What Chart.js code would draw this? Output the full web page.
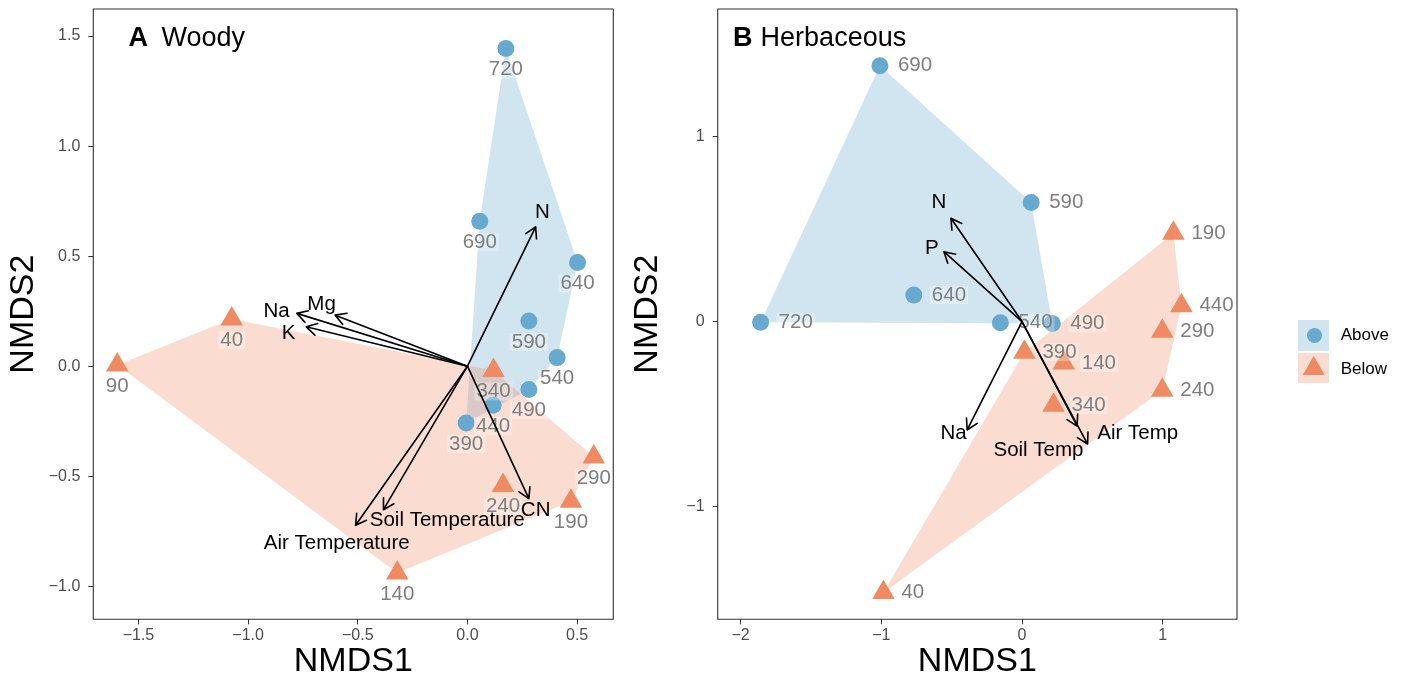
<!DOCTYPE html>
<html>
<head>
<meta charset="utf-8">
<script src="https://cdn.jsdelivr.net/npm/chart.js@4/dist/chart.umd.min.js"></script>
<style>
  html, body { margin: 0; padding: 0; background: #ffffff; width: 1406px; height: 680px; overflow: hidden;
    font-family: "Liberation Sans", Arial, Helvetica, sans-serif; }
  #wrapA { position: absolute; left: 0; top: 0; width: 626px; height: 680px; }
  #wrapB { position: absolute; left: 626px; top: 0; width: 780px; height: 680px; }
  .key { position: absolute; width: 30.7px; height: 30.7px; }
  .dot { position: absolute; width: 15px; height: 15px; border-radius: 50%; background: #67A9CF; }
  .tri { position: absolute; width: 22px; height: 19px; background: #EF8A62;
    clip-path: polygon(50% 0, 100% 100%, 0 100%); }
  .lt { position: absolute; font-size: 17px; line-height: 20px; height: 20px; color: #000; }
</style>
</head>
<body>
<div id="wrapA"><canvas id="chartA" width="626" height="680"></canvas></div>
<div id="wrapB"><canvas id="chartB" width="780" height="680"></canvas></div>

<div class="key" style="left:1298.3px; top:320px; background:#D1E5F1;"></div>
<div class="dot" style="left:1306.5px; top:327.5px;"></div>
<div class="key" style="left:1298.3px; top:352.7px; background:#FADCD0;"></div>
<div class="tri" style="left:1302.7px; top:356px;"></div>
<div class="lt" style="left:1340.7px; top:325px;">Above</div>
<div class="lt" style="left:1340.7px; top:359px;">Below</div>

<script>
// ---------------- DATA ----------------
// Panel A: Woody
const woodyAboveSites = ['720', '690', '640', '590', '540', '490', '440', '390'];
const woodyAboveX = [0.175, 0.056, 0.502, 0.280, 0.409, 0.280, 0.117, -0.006];
const woodyAboveY = [1.444, 0.659, 0.471, 0.205, 0.039, -0.106, -0.177, -0.258];
const woodyBelowSites = ['40', '90', '340', '290', '240', '190', '140'];
const woodyBelowX = [-1.075, -1.597, 0.119, 0.576, 0.162, 0.472, -0.320];
const woodyBelowY = [0.214, 0.006, -0.019, -0.413, -0.542, -0.614, -0.940];
const woodyVectors = ['N', 'Mg', 'Na', 'K', 'Soil Temperature', 'Air Temperature', 'CN'];
const woodyVecX = [0.311, -0.603, -0.778, -0.735, -0.383, -0.510, 0.280];
const woodyVecY = [0.633, 0.232, 0.240, 0.179, -0.652, -0.723, -0.602];
const woodyVecLabelX = [0.342, -0.665, -0.870, -0.815, -0.092, -0.596, 0.311];
const woodyVecLabelY = [0.699, 0.283, 0.247, 0.149, -0.700, -0.803, -0.655];
const woodyXTicks = [-1.5, -1.0, -0.5, 0.0, 0.5];
const woodyXTickLabels = ['\u22121.5', '\u22121.0', '\u22120.5', '0.0', '0.5'];
const woodyYTicks = [-1.0, -0.5, 0.0, 0.5, 1.0, 1.5];
const woodyYTickLabels = ['\u22121.0', '\u22120.5', '0.0', '0.5', '1.0', '1.5'];
const woodyXRange = [-1.706, 0.665];
const woodyYRange = [-1.150, 1.623];

// Panel B: Herbaceous
const herbAboveSites = ['690', '590', '640', '720', '540', '490'];
const herbAboveX = [-1.010, 0.065, -0.769, -1.858, -0.154, 0.215];
const herbAboveY = [1.385, 0.645, 0.143, -0.004, -0.006, -0.010];
const herbBelowSites = ['190', '440', '290', '240', '390', '140', '340', '40'];
const herbBelowX = [1.076, 1.133, 0.997, 0.997, 0.017, 0.297, 0.224, -0.985];
const herbBelowY = [0.478, 0.085, -0.053, -0.372, -0.166, -0.224, -0.453, -1.467];
const herbVectors = ['N', 'P', 'Na', 'Soil Temp', 'Air Temp'];
const herbVecX = [-0.505, -0.555, -0.390, 0.392, 0.466];
const herbVecY = [0.559, 0.378, -0.587, -0.566, -0.663];
const herbVecLabelX = [-0.591, -0.641, -0.486, 0.117, 0.822];
const herbVecLabelY = [0.645, 0.396, -0.605, -0.700, -0.605];
const herbXTicks = [-2, -1, 0, 1];
const herbXTickLabels = ['\u22122', '\u22121', '0', '1'];
const herbYTicks = [-1, 0, 1];
const herbYTickLabels = ['\u22121', '0', '1'];
const herbXRange = [-2.163, 1.528];
const herbYRange = [-1.612, 1.692];

// ---------------- STYLE ----------------
const FONT = '"Liberation Sans", Arial, Helvetica, sans-serif';
const BLUE = '#67A9CF', ORANGE = '#EF8A62';
const BLUE_FILL = 'rgba(103,169,207,0.3)', ORANGE_FILL = 'rgba(239,138,98,0.3)';
Chart.defaults.font.family = FONT;

function convexHull(points) {
  const pts = points.slice().sort((a, b) => a[0] - b[0] || a[1] - b[1]);
  const cross = (o, a, b) => (a[0] - o[0]) * (b[1] - o[1]) - (a[1] - o[1]) * (b[0] - o[0]);
  const lower = [];
  for (const p of pts) {
    while (lower.length >= 2 && cross(lower[lower.length - 2], lower[lower.length - 1], p) <= 0) lower.pop();
    lower.push(p);
  }
  const upper = [];
  for (let i = pts.length - 1; i >= 0; i--) {
    const p = pts[i];
    while (upper.length >= 2 && cross(upper[upper.length - 2], upper[upper.length - 1], p) <= 0) upper.pop();
    upper.push(p);
  }
  upper.pop(); lower.pop();
  return lower.concat(upper);
}

function zip(xs, ys) { return xs.map((v, i) => ({ x: v, y: ys[i] })); }

function ordPlugin(cfg) {
  return {
    id: 'ord_' + cfg.id,
    beforeDatasetsDraw(chart) {
      const { ctx, chartArea: ca, scales: { x, y } } = chart;
      ctx.save();
      ctx.beginPath();
      ctx.rect(ca.left, ca.top, ca.right - ca.left, ca.bottom - ca.top);
      ctx.clip();
      cfg.hulls.forEach(h => {
        const hp = convexHull(h.xs.map((v, i) => [v, h.ys[i]]));
        ctx.beginPath();
        hp.forEach((p, i) => {
          const px = x.getPixelForValue(p[0]), py = y.getPixelForValue(p[1]);
          if (i) ctx.lineTo(px, py); else ctx.moveTo(px, py);
        });
        ctx.closePath();
        ctx.fillStyle = h.fill;
        ctx.fill();
      });
      ctx.restore();
    },
    afterDatasetsDraw(chart) {
      const { ctx, chartArea: ca, scales: { x, y } } = chart;
      ctx.save();
      // site labels
      ctx.font = '20.5px ' + FONT;
      ctx.textBaseline = 'middle';
      cfg.siteLabels.forEach(g => {
        g.names.forEach((name, i) => {
          const px = x.getPixelForValue(g.xs[i]), py = y.getPixelForValue(g.ys[i]);
          let tx, ty;
          if (cfg.labelMode === 'below') { tx = px; ty = py + 21; ctx.textAlign = 'center'; }
          else { tx = px + 18; ty = py; ctx.textAlign = 'left'; }
          const w = ctx.measureText(name).width;
          const bx = cfg.labelMode === 'below' ? tx - w / 2 - 2 : tx - 2;
          ctx.fillStyle = 'rgba(255,255,255,0.28)';
          ctx.fillRect(bx, ty - 9, w + 4, 18);
          ctx.fillStyle = '#7F7F7F';
          ctx.fillText(name, tx, ty);
        });
      });
      // arrows
      const ox = x.getPixelForValue(0), oy = y.getPixelForValue(0);
      ctx.strokeStyle = '#000';
      ctx.lineWidth = 1.6;
      ctx.lineCap = 'round';
      ctx.lineJoin = 'round';
      cfg.vec.xs.forEach((vx, i) => {
        const tx = x.getPixelForValue(vx), ty = y.getPixelForValue(cfg.vec.ys[i]);
        ctx.beginPath();
        ctx.moveTo(ox, oy); ctx.lineTo(tx, ty);
        const ang = Math.atan2(ty - oy, tx - ox);
        const L = 12, a = Math.PI / 6;
        ctx.moveTo(tx - L * Math.cos(ang - a), ty - L * Math.sin(ang - a));
        ctx.lineTo(tx, ty);
        ctx.lineTo(tx - L * Math.cos(ang + a), ty - L * Math.sin(ang + a));
        ctx.stroke();
      });
      // arrow labels
      ctx.fillStyle = '#000';
      ctx.textAlign = 'center';
      ctx.textBaseline = 'middle';
      ctx.font = '20.5px ' + FONT;
      cfg.vec.names.forEach((n, i) => {
        ctx.fillText(n, x.getPixelForValue(cfg.vec.lx[i]), y.getPixelForValue(cfg.vec.ly[i]));
      });
      // panel tag + title
      ctx.textAlign = 'left';
      ctx.textBaseline = 'alphabetic';
      ctx.font = 'bold 27px ' + FONT;
      ctx.fillText(cfg.tag, ca.left + cfg.tagDx, ca.top + 36.5);
      ctx.font = '27px ' + FONT;
      ctx.fillText(cfg.title, ca.left + cfg.titleDx, ca.top + 36.5);
      // panel border
      ctx.strokeStyle = '#333333';
      ctx.lineWidth = 1.1;
      ctx.strokeRect(ca.left, ca.top, ca.right - ca.left, ca.bottom - ca.top);
      ctx.restore();
    }
  };
}

function noPad(s) { s.paddingTop = 0; s.paddingBottom = 0; s.paddingLeft = 0; s.paddingRight = 0; }

function makeChart(id, cfg) {
  const ctx = document.getElementById(id);
  return new Chart(ctx, {
    type: 'scatter',
    data: {
      datasets: [
        { label: 'Above', data: zip(cfg.aboveX, cfg.aboveY), pointStyle: 'circle', pointRadius: 8.5,
          pointHoverRadius: 8.5, backgroundColor: BLUE, pointBackgroundColor: BLUE, borderWidth: 0, pointBorderWidth: 0 },
        { label: 'Below', data: zip(cfg.belowX, cfg.belowY), pointStyle: 'triangle', pointRadius: 13,
          pointHoverRadius: 13, backgroundColor: ORANGE, pointBackgroundColor: ORANGE, borderWidth: 0, pointBorderWidth: 0 }
      ]
    },
    options: {
      responsive: false,
      animation: false,
      devicePixelRatio: 1,
      layout: { autoPadding: false, padding: { left: 0, top: 9, right: cfg.padRight, bottom: 0 } },
      plugins: { legend: { display: false }, tooltip: { enabled: false } },
      events: [],
      scales: {
        x: {
          type: 'linear', position: 'bottom', min: cfg.xRange[0], max: cfg.xRange[1],
          afterBuildTicks: s => { s.ticks = cfg.xTicks.map(v => ({ value: v })); },
          afterFit: s => { s.height = 680 - 619.3; noPad(s); },
          ticks: { callback: (v, i) => cfg.xTickLabels[i], color: '#4D4D4D', font: { size: 16, family: FONT },
                   padding: 2, maxRotation: 0, autoSkip: false },
          grid: { display: true, drawOnChartArea: false, drawTicks: true, tickLength: 5, color: '#333333', tickColor: '#333333', lineWidth: 1 },
          border: { display: false },
          title: { display: true, text: 'NMDS1', color: '#000', font: { size: 34, family: FONT, lineHeight: 1 },
                   padding: { top: 0, bottom: 1 } }
        },
        y: {
          type: 'linear', position: 'left', min: cfg.yRange[0], max: cfg.yRange[1],
          afterBuildTicks: s => { s.ticks = cfg.yTicks.map(v => ({ value: v })); },
          afterFit: s => { s.width = cfg.yWidth; noPad(s); },
          ticks: { callback: (v, i) => cfg.yTickLabels[i], color: '#4D4D4D', font: { size: 16, family: FONT },
                   padding: 8, autoSkip: false },
          grid: { display: true, drawOnChartArea: false, drawTicks: true, tickLength: 5, color: '#333333', tickColor: '#333333', lineWidth: 1 },
          border: { display: false },
          title: { display: true, text: 'NMDS2', color: '#000', font: { size: 34, family: FONT, lineHeight: 1 },
                   padding: { top: cfg.yTitlePad, bottom: 0 } }
        }
      }
    },
    plugins: [ordPlugin(cfg)]
  });
}

makeChart('chartA', {
  id: 'A', tag: 'A', title: 'Woody', tagDx: 35.1, titleDx: 68.1,
  aboveX: woodyAboveX, aboveY: woodyAboveY, belowX: woodyBelowX, belowY: woodyBelowY,
  xRange: woodyXRange, yRange: woodyYRange,
  xTicks: woodyXTicks, xTickLabels: woodyXTickLabels, yTicks: woodyYTicks, yTickLabels: woodyYTickLabels,
  padRight: 626 - 613.3, yWidth: 93.3, yTitlePad: 7,
  labelMode: 'below',
  hulls: [ { xs: woodyAboveX, ys: woodyAboveY, fill: BLUE_FILL }, { xs: woodyBelowX, ys: woodyBelowY, fill: ORANGE_FILL } ],
  siteLabels: [ { names: woodyAboveSites, xs: woodyAboveX, ys: woodyAboveY }, { names: woodyBelowSites, xs: woodyBelowX, ys: woodyBelowY } ],
  vec: { names: woodyVectors, xs: woodyVecX, ys: woodyVecY, lx: woodyVecLabelX, ly: woodyVecLabelY }
});

makeChart('chartB', {
  id: 'B', tag: 'B', title: 'Herbaceous', tagDx: 15.2, titleDx: 42.9,
  aboveX: herbAboveX, aboveY: herbAboveY, belowX: herbBelowX, belowY: herbBelowY,
  xRange: herbXRange, yRange: herbYRange,
  xTicks: herbXTicks, xTickLabels: herbXTickLabels, yTicks: herbYTicks, yTickLabels: herbYTickLabels,
  padRight: 1406 - 1237, yWidth: 717.7 - 626, yTitlePad: 4.5,
  labelMode: 'right',
  hulls: [ { xs: herbAboveX, ys: herbAboveY, fill: BLUE_FILL }, { xs: herbBelowX, ys: herbBelowY, fill: ORANGE_FILL } ],
  siteLabels: [ { names: herbAboveSites, xs: herbAboveX, ys: herbAboveY }, { names: herbBelowSites, xs: herbBelowX, ys: herbBelowY } ],
  vec: { names: herbVectors, xs: herbVecX, ys: herbVecY, lx: herbVecLabelX, ly: herbVecLabelY }
});
</script>
</body>
</html>
